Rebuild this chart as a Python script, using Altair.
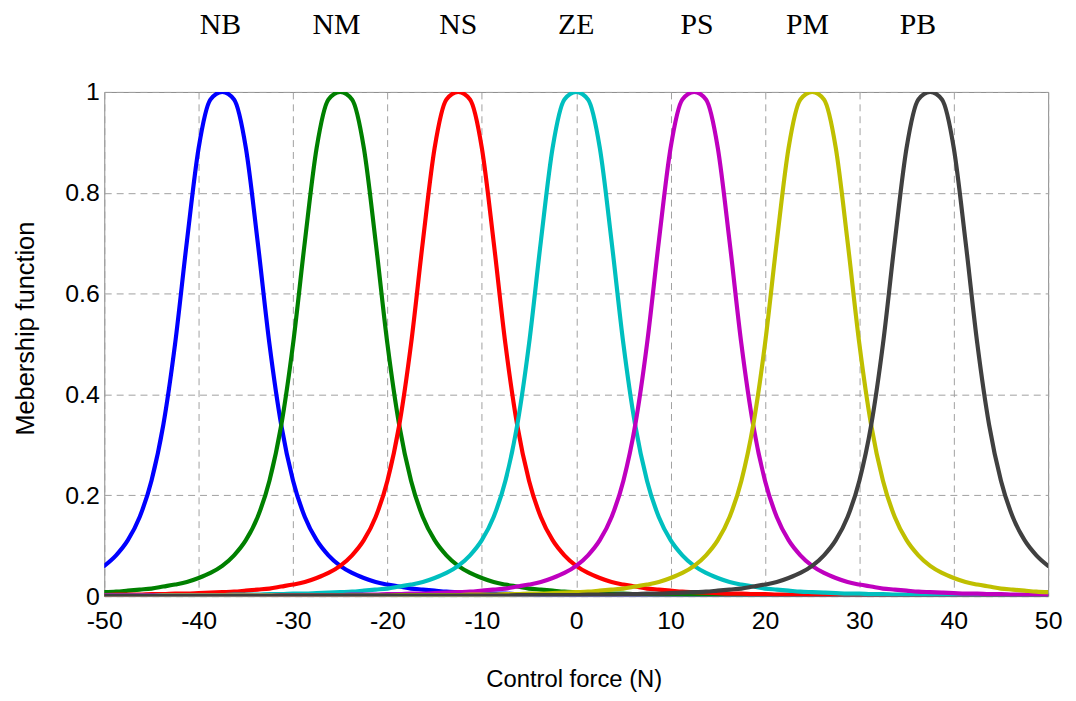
import altair as alt
import pandas as pd

x_vals = [-50.0, -48.75, -47.5, -46.25, -45.0, -43.75, -42.5, -41.25, -40.0, -38.75,
          -37.5, -36.25, -35.0, -33.75, -32.5, -31.25, -30.0, -28.75, -27.5, -26.25,
          -25.0, -23.75, -22.5, -21.25, -20.0, -18.75, -17.5, -16.25, -15.0, -13.75,
          -12.5, -11.25, -10.0, -8.75, -7.5, -6.25, -5.0, -3.75, -2.5, -1.25,
          0.0, 1.25, 2.5, 3.75, 5.0, 6.25, 7.5, 8.75, 10.0, 11.25,
          12.5, 13.75, 15.0, 16.25, 17.5, 18.75, 20.0, 21.25, 22.5, 23.75,
          25.0, 26.25, 27.5, 28.75, 30.0, 31.25, 32.5, 33.75, 35.0, 36.25,
          37.5, 38.75, 40.0, 41.25, 42.5, 43.75, 45.0, 46.25, 47.5, 48.75, 50.0]

NB = [0.060, 0.081, 0.111, 0.157, 0.229, 0.339, 0.500, 0.703, 0.889, 0.985,
      1.000,
      0.985, 0.889, 0.703, 0.500, 0.339, 0.229, 0.157, 0.111, 0.081, 0.060,
      0.046, 0.036, 0.028, 0.023, 0.019, 0.015, 0.013, 0.011, 0.009, 0.008,
      0.007, 0.006, 0.005, 0.005, 0.004, 0.004, 0.003, 0.003, 0.003, 0.002,
      0.002, 0.002, 0.002, 0.002, 0.002,
      0.001, 0.001, 0.001, 0.001, 0.001, 0.001, 0.001, 0.001, 0.001, 0.001,
      0.001, 0.001, 0.001, 0.001, 0.001, 0.001, 0.001, 0.001, 0.001, 0.001,
      0.000, 0.000, 0.000, 0.000, 0.000, 0.000, 0.000, 0.000, 0.000, 0.000,
      0.000, 0.000, 0.000, 0.000, 0.000]

NM = [0.008, 0.009, 0.011, 0.013, 0.015, 0.019, 0.023, 0.028, 0.036, 0.046,
      0.060, 0.081, 0.111, 0.157, 0.229, 0.339, 0.500, 0.703, 0.889, 0.985,
      1.000,
      0.985, 0.889, 0.703, 0.500, 0.339, 0.229, 0.157, 0.111, 0.081, 0.060,
      0.046, 0.036, 0.028, 0.023, 0.019, 0.015, 0.013, 0.011, 0.009, 0.008,
      0.007, 0.006, 0.005, 0.005, 0.004, 0.004, 0.003, 0.003, 0.003, 0.002,
      0.002, 0.002, 0.002, 0.002, 0.002,
      0.001, 0.001, 0.001, 0.001, 0.001, 0.001, 0.001, 0.001, 0.001, 0.001,
      0.001, 0.001, 0.001, 0.001, 0.001, 0.001, 0.001, 0.001, 0.001, 0.001,
      0.000, 0.000, 0.000, 0.000, 0.000]

NS = [0.002, 0.003, 0.003, 0.003, 0.004, 0.004, 0.005, 0.005, 0.006, 0.007,
      0.008, 0.009, 0.011, 0.013, 0.015, 0.019, 0.023, 0.028, 0.036, 0.046,
      0.060, 0.081, 0.111, 0.157, 0.229, 0.339, 0.500, 0.703, 0.889, 0.985,
      1.000,
      0.985, 0.889, 0.703, 0.500, 0.339, 0.229, 0.157, 0.111, 0.081, 0.060,
      0.046, 0.036, 0.028, 0.023, 0.019, 0.015, 0.013, 0.011, 0.009, 0.008,
      0.007, 0.006, 0.005, 0.005, 0.004, 0.004, 0.003, 0.003, 0.003, 0.002,
      0.002, 0.002, 0.002, 0.002, 0.002,
      0.001, 0.001, 0.001, 0.001, 0.001, 0.001, 0.001, 0.001, 0.001, 0.001,
      0.001, 0.001, 0.001, 0.001, 0.001]

ZE = [0.001, 0.001, 0.001, 0.001, 0.001, 0.002, 0.002, 0.002, 0.002, 0.002,
      0.002, 0.003, 0.003, 0.003, 0.004, 0.004, 0.005, 0.005, 0.006, 0.007,
      0.008, 0.009, 0.011, 0.013, 0.015, 0.019, 0.023, 0.028, 0.036, 0.046,
      0.060, 0.081, 0.111, 0.157, 0.229, 0.339, 0.500, 0.703, 0.889, 0.985,
      1.000,
      0.985, 0.889, 0.703, 0.500, 0.339, 0.229, 0.157, 0.111, 0.081, 0.060,
      0.046, 0.036, 0.028, 0.023, 0.019, 0.015, 0.013, 0.011, 0.009, 0.008,
      0.007, 0.006, 0.005, 0.005, 0.004, 0.004, 0.003, 0.003, 0.003, 0.002,
      0.002, 0.002, 0.002, 0.002, 0.002, 0.001, 0.001, 0.001, 0.001, 0.001]

PS = [0.001, 0.001, 0.001, 0.001, 0.001, 0.001, 0.001, 0.001, 0.001, 0.001,
      0.001, 0.001, 0.001, 0.001, 0.001,
      0.002, 0.002, 0.002, 0.002, 0.002,
      0.002, 0.003, 0.003, 0.003, 0.004, 0.004, 0.005, 0.005, 0.006, 0.007,
      0.008, 0.009, 0.011, 0.013, 0.015, 0.019, 0.023, 0.028, 0.036, 0.046,
      0.060, 0.081, 0.111, 0.157, 0.229, 0.339, 0.500, 0.703, 0.889, 0.985,
      1.000,
      0.985, 0.889, 0.703, 0.500, 0.339, 0.229, 0.157, 0.111, 0.081, 0.060,
      0.046, 0.036, 0.028, 0.023, 0.019, 0.015, 0.013, 0.011, 0.009, 0.008,
      0.007, 0.006, 0.005, 0.005, 0.004, 0.004, 0.003, 0.003, 0.003, 0.002]

PM = [0.000, 0.000, 0.000, 0.000, 0.000,
      0.001, 0.001, 0.001, 0.001, 0.001, 0.001, 0.001, 0.001, 0.001, 0.001,
      0.001, 0.001, 0.001, 0.001, 0.001, 0.001, 0.001, 0.001, 0.001, 0.001,
      0.002, 0.002, 0.002, 0.002, 0.002,
      0.002, 0.003, 0.003, 0.003, 0.004, 0.004, 0.005, 0.005, 0.006, 0.007,
      0.008, 0.009, 0.011, 0.013, 0.015, 0.019, 0.023, 0.028, 0.036, 0.046,
      0.060, 0.081, 0.111, 0.157, 0.229, 0.339, 0.500, 0.703, 0.889, 0.985,
      1.000,
      0.985, 0.889, 0.703, 0.500, 0.339, 0.229, 0.157, 0.111, 0.081, 0.060,
      0.046, 0.036, 0.028, 0.023, 0.019, 0.015, 0.013, 0.011, 0.009, 0.008]

PB = [0.000, 0.000, 0.000, 0.000, 0.000, 0.000, 0.000, 0.000, 0.000, 0.000,
      0.000, 0.000, 0.000, 0.000, 0.000,
      0.001, 0.001, 0.001, 0.001, 0.001, 0.001, 0.001, 0.001, 0.001, 0.001,
      0.001, 0.001, 0.001, 0.001, 0.001, 0.001, 0.001, 0.001, 0.001, 0.001,
      0.002, 0.002, 0.002, 0.002, 0.002,
      0.002, 0.003, 0.003, 0.003, 0.004, 0.004, 0.005, 0.005, 0.006, 0.007,
      0.008, 0.009, 0.011, 0.013, 0.015, 0.019, 0.023, 0.028, 0.036, 0.046,
      0.060, 0.081, 0.111, 0.157, 0.229, 0.339, 0.500, 0.703, 0.889, 0.985,
      1.000,
      0.985, 0.889, 0.703, 0.500, 0.339, 0.229, 0.157, 0.111, 0.081, 0.060]

series_names = ["NB", "NM", "NS", "ZE", "PS", "PM", "PB"]
series_values = [NB, NM, NS, ZE, PS, PM, PB]
series_colors = ["#0000ff", "#008000", "#ff0000", "#00bfbf", "#bf00bf", "#bfbf00", "#404040"]

label_names = ["NB", "NM", "NS", "ZE", "PS", "PM", "PB"]
label_x = [-37.7, -25.4, -12.5, 0.0, 12.8, 24.5, 36.2]

x_ticks = [-50, -40, -30, -20, -10, 0, 10, 20, 30, 40, 50]
y_ticks = [0, 0.2, 0.4, 0.6, 0.8, 1]

rows = []
for si, (name, vals) in enumerate(zip(series_names, series_values)):
    for xv, yv in zip(x_vals, vals):
        rows.append({"x": xv, "y": yv, "series": name, "order": si})
df = pd.DataFrame(rows)

labels_df = pd.DataFrame({"x": label_x, "label": label_names})

x_scale = alt.Scale(domain=[-50, 50], nice=False, zero=False)
y_scale = alt.Scale(domain=[0, 1], nice=False)

SANS = "Liberation Sans"

lines = alt.Chart(df).mark_line(strokeWidth=4.2, clip=True, strokeCap="round",
                                strokeJoin="round", interpolate="monotone").encode(
    x=alt.X("x:Q", scale=x_scale,
            axis=alt.Axis(values=x_ticks, title="Control force (N)",
                          labelExpr="'' + datum.value", labelFlush=False,
                          titleX=473, titleY=84, titleBaseline="middle",
                          titleFontSize=24)),
    y=alt.Y("y:Q", scale=y_scale,
            axis=alt.Axis(values=y_ticks, title="Mebership function", format="~g",
                          labelFlush=False,
                          titleX=-79, titleY=238, titleAngle=270,
                          titleBaseline="middle", titleAlign="center",
                          titleFontSize=25.5)),
    color=alt.Color("series:N", scale=alt.Scale(domain=series_names, range=series_colors), legend=None),
    order=alt.Order("order:Q"),
    detail="series:N",
)

top_labels = alt.Chart(labels_df).mark_text(
    font="Liberation Serif", fontSize=30, color="black", baseline="alphabetic", align="center"
).encode(
    x=alt.X("x:Q", scale=x_scale),
    y=alt.value(-58),
    text="label:N",
)

chart = alt.layer(lines, top_labels).properties(
    width=951, height=508,
    autosize=alt.AutoSizeParams(type="none"),
    padding={"left": 97, "top": 82, "right": 20, "bottom": 95},
).configure_view(
    stroke="#888888", strokeWidth=1
).configure_axis(
    grid=True, gridColor="#a0a0a0", gridDash=[7, 5], gridWidth=1,
    domain=False, ticks=False,
    labelFont=SANS, labelFontSize=25, labelColor="black",
    titleFont=SANS, titleFontWeight="normal", titleColor="black",
).configure_axisX(
    labelPadding=13
).configure_axisY(
    labelPadding=5
)

chart.save("out.html", embed_options={"renderer": "svg", "actions": False})
